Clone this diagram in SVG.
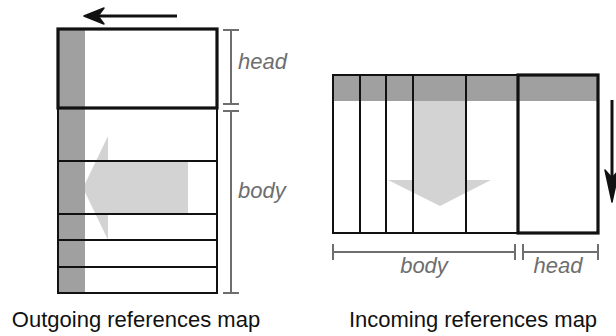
<svg xmlns="http://www.w3.org/2000/svg" width="616" height="336" viewBox="0 0 616 336">
<style>
.strip{fill:#a0a0a0}
.big{fill:#d3d3d3}
.thin{fill:none;stroke:#111;stroke-width:2}
.thick{fill:none;stroke:#111;stroke-width:3.2}
.dim{fill:none;stroke:#6e6e6e;stroke-width:2}
.lab{font-family:"Liberation Sans",Arial,sans-serif;font-style:italic;font-size:22px;fill:#6e6e6e}
.cap{font-family:"Liberation Sans",Arial,sans-serif;font-size:22px;fill:#111;text-anchor:middle}
.arr{fill:none;stroke:#111;stroke-width:3}
</style>
<rect width="616" height="336" fill="#fff"/>
<g id="outgoing-map">
  <rect x="58" y="108" width="159" height="185" fill="#fff"/>
  <polygon class="big" points="188,162 108,162 108,136 83,188 108,240 108,214 188,214"/>
  <rect class="strip" x="58" y="29" width="27" height="264"/>
  <rect class="thin" x="58" y="108" width="159" height="185"/>
  <line class="thin" x1="58" y1="161" x2="217" y2="161"/>
  <line class="thin" x1="58" y1="214" x2="217" y2="214"/>
  <line class="thin" x1="58" y1="240" x2="217" y2="240"/>
  <line class="thin" x1="58" y1="267" x2="217" y2="267"/>
  <rect class="thick" x="58" y="29" width="159" height="79"/>
</g>
<g id="outgoing-arrow">
  <line class="arr" x1="177" y1="16" x2="90" y2="16"/>
  <path d="M84,16 L104,8 L98,16 L104,24 Z" fill="#111" stroke="#111" stroke-width="1.5" stroke-linejoin="round"/>
</g>
<g id="outgoing-dims">
  <path class="dim" d="M231,30 V104 M223,30 H239 M223,104 H239"/>
  <path class="dim" d="M231,111 V293 M223,111 H239 M223,293 H239"/>
  <text class="lab" x="238" y="69">head</text>
  <text class="lab" x="238" y="198">body</text>
</g>
<g id="incoming-map">
  <rect x="333" y="75" width="265" height="158" fill="#fff"/>
  <rect class="strip" x="333" y="75" width="265" height="26"/>
  <polygon class="big" points="413,101 466,101 466,180 491,180 440,206 388,180 413,180"/>
  <rect class="thin" x="333" y="75" width="265" height="158"/>
  <line class="thin" x1="360" y1="75" x2="360" y2="233"/>
  <line class="thin" x1="386" y1="75" x2="386" y2="233"/>
  <line class="thin" x1="413" y1="75" x2="413" y2="233"/>
  <line class="thin" x1="466" y1="75" x2="466" y2="233"/>
  <rect class="thick" x="518" y="75" width="80" height="158"/>
</g>
<g id="incoming-arrow">
  <line class="arr" x1="612" y1="100" x2="612" y2="196"/>
  <path d="M612,202 L605,170 L612,178 L619,170 Z" fill="#111" stroke="#111" stroke-width="1.5" stroke-linejoin="round"/>
</g>
<g id="incoming-dims">
  <path class="dim" d="M333,252 H515 M333,244 V260 M515,244 V260"/>
  <path class="dim" d="M523,252 H598 M523,244 V260 M598,244 V260"/>
  <text class="lab" x="424" y="273" text-anchor="middle">body</text>
  <text class="lab" x="558" y="273" text-anchor="middle">head</text>
</g>
<g id="captions">
  <text class="cap" x="136" y="327">Outgoing references map</text>
  <text class="cap" x="473" y="327">Incoming references map</text>
</g>
</svg>
